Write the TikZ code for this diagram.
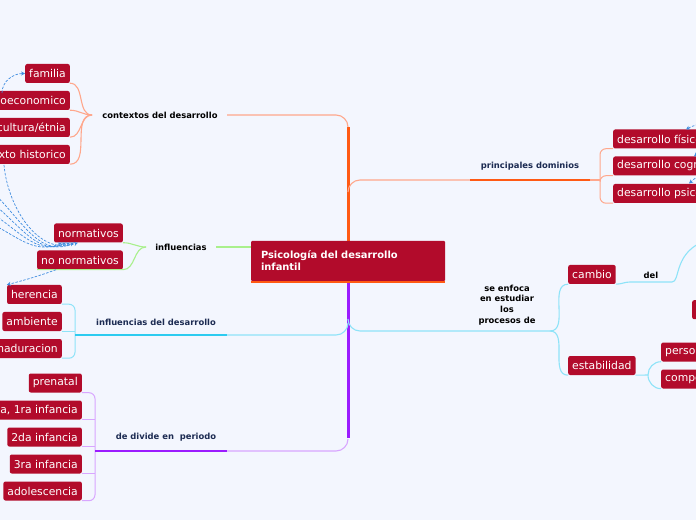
\documentclass[tikz,border=0pt]{standalone}
\usepackage{fontspec}
\setmainfont{DejaVu Sans}
\usetikzlibrary{arrows.meta,backgrounds}
\definecolor{canvasbg}{HTML}{F3F6FE}
\definecolor{topicred}{HTML}{B20B2B}
\definecolor{navy}{HTML}{1C2B52}
\definecolor{orangeL}{HTML}{FFA78C}
\definecolor{orangeD}{HTML}{FF5A14}
\definecolor{cyanL}{HTML}{8EE3F8}
\definecolor{cyanD}{HTML}{2DCBF0}
\definecolor{purpleL}{HTML}{D8A6FF}
\definecolor{purpleD}{HTML}{9B1CFF}
\definecolor{greenL}{HTML}{A9F08C}
\definecolor{linkblue}{HTML}{3F8DE0}
\tikzset{
    topic/.style={fill=topicred, text=white, rounded corners=2pt,
                  minimum height=19pt, inner xsep=4pt, inner ysep=0pt,
                  font=\fontsize{10.8}{13}\selectfont},
    lefttopic/.style={topic, anchor=east},
    righttopic/.style={topic, anchor=west},
    centre/.style={fill=topicred, text=white, rounded corners=1pt,
                   minimum width=194pt, minimum height=40pt, text width=174pt,
                   inner xsep=10pt, align=left,
                   font=\bfseries\fontsize{9.9}{12}\selectfont},
    branchtext/.style={font=\bfseries\fontsize{8.4}{10.7}\selectfont,
                       align=center, inner sep=1pt},
    thin branch/.style={line width=1.1pt},
    thick branch/.style={line width=2pt},
    trunk/.style={line width=3pt},
    bracket/.style={line width=1pt, rounded corners=6pt},
    dashlink/.style={-{Stealth[length=4pt, width=4pt]}, linkblue,
                     line width=0.7pt, dash pattern=on 2.5pt off 1.5pt},
}
\newcommand{\mapcanvas}{
    \path[use as bounding box] (0,0) rectangle (696,520);
    \clip (0,0) rectangle (696,520);
}

\begin{document}
\begin{tikzpicture}[x=1pt, y=1pt]
    \mapcanvas

    % central topic
    \node[centre] (root) at (348,259) {Psicología del desarrollo\\infantil};
    \draw[orangeD, line width=2pt] ([yshift=-1pt]root.south west) -- ([yshift=-1pt]root.south east);

    % contextos del desarrollo
    \node[lefttopic] (familia) at (70,446.5) {familia};
    \node[lefttopic] (socio) at (70,419.5) {socioeconomico};
    \node[lefttopic] (cultura) at (70,392.5) {cultura/étnia};
    \node[lefttopic] (historico) at (70,365.5) {contexto historico};
    \node[branchtext] (ctx) at (160,405) {contextos del desarrollo};
    \coordinate (cbr) at (92,405);
    \coordinate (ctxin) at (227,405);
    \foreach \n in {familia,socio,cultura,historico}
        \draw[orangeL, thin branch] (\n.south east) to[out=0,in=180] (cbr);
    \draw[orangeL, thin branch] (ctxin) -- (336,405) arc[start angle=90, end angle=0, radius=12];

    % principales dominios
    \node[righttopic] (fisico) at (613,381) {desarrollo físico};
    \node[righttopic] (cognitivo) at (613,354) {desarrollo cognitivo};
    \node[righttopic] (psico) at (613,326.5) {desarrollo psicosocial};
    \node[branchtext, navy] (dom) at (530,354) {principales dominios};
    \coordinate (dbr) at (600,340);
    \coordinate (domin) at (470,340);
    \coordinate (domout) at (590,340);
    \draw[orangeL, thin branch] (348,328) arc[start angle=180, end angle=90, radius=12] -- (domin);
    \draw[orangeD, thick branch] (domin) -- (domout);
    \draw[orangeL, thin branch] (domout) -- (dbr);
    \foreach \n in {fisico,cognitivo,psico}
        \draw[orangeL, bracket] (\n.south west) -| (dbr);

    % influencias
    \node[lefttopic] (norm) at (123,287) {normativos};
    \node[lefttopic] (nonorm) at (123,260) {no normativos};
    \node[branchtext] (infl) at (181,273) {influencias};
    \coordinate (ibr) at (146,273);
    \coordinate (inflin) at (216,273);
    \draw[greenL, thin branch] (norm.south east) to[out=0,in=180] (ibr);
    \draw[greenL, thin branch] (nonorm.south west) -- (nonorm.south east) to[out=0,in=180] (ibr);
    \draw[greenL, thin branch] (inflin) -- (inflin -| root.west);

    % influencias del desarrollo
    \node[lefttopic] (herencia) at (62,225.5) {herencia};
    \node[lefttopic] (ambiente) at (62,198.5) {ambiente};
    \node[lefttopic] (maduracion) at (62,171.5) {maduracion};
    \node[branchtext, navy] (infdes) at (156,198) {influencias del desarrollo};
    \coordinate (hbr) at (75,185);
    \coordinate (infdesin) at (227,185);
    \draw[cyanL, bracket] (herencia.south east) -| (hbr);
    \draw[cyanL, bracket] (maduracion.south east) -| (hbr);
    \draw[cyanL, thin branch] (ambiente.south east) -- (ambiente.south east -| hbr);
    \draw[cyanD, thick branch] (hbr) -- (infdesin);
    \draw[cyanL, thin branch] (infdesin) -- (336,185) arc[start angle=270, end angle=360, radius=12];

    % periodos
    \node[lefttopic] (prenatal) at (82,137) {prenatal};
    \node[lefttopic] (infancia) at (82,110) {lactancia, 1ra infancia};
    \node[lefttopic] (segunda) at (82,83) {2da infancia};
    \node[lefttopic] (tercera) at (82,56) {3ra infancia};
    \node[lefttopic] (adolesc) at (82,29) {adolescencia};
    \node[branchtext, navy] (periodo) at (166,83) {de divide en\ \ periodo};
    \coordinate (pbr) at (95,69);
    \coordinate (periodoin) at (227,69);
    \draw[purpleL, bracket] (prenatal.south east) -| (pbr);
    \draw[purpleL, bracket] (adolesc.south east) -| (pbr);
    \foreach \n in {infancia,segunda,tercera}
        \draw[purpleL, thin branch] (\n.south east) -- (\n.south east -| pbr);
    \draw[purpleD, thick branch] (pbr) -- (periodoin);
    \draw[purpleL, thin branch] (periodoin) -- (336,69) arc[start angle=270, end angle=360, radius=12];

    % procesos
    \node[righttopic] (cambio) at (568,245.5) {cambio};
    \node[righttopic] (estab) at (568,154.5) {estabilidad};
    \node[righttopic] (persona) at (661,168) {personalidad};
    \node[righttopic] (comp) at (661,141) {comportamiento};
    \node[topic, anchor=north west, minimum width=40pt] (oculto) at (692,220) {};
    \node[branchtext] (proc) at (507,215) {se enfoca\\en estudiar\\los\\procesos de};
    \node[branchtext] (del) at (651,245) {del};
    \coordinate (prbr) at (550,189);
    \coordinate (ebr) at (648,145);
    \coordinate (delbend) at (630,238);
    \coordinate (delturn) at (672,238);
    \coordinate (delend) at (700,277);
    \draw[cyanL, thin branch] (348,201) arc[start angle=180, end angle=270, radius=12] -- (prbr);
    \draw[cyanL, thin branch] (prbr) to[out=0,in=180] (cambio.south west);
    \draw[cyanL, thin branch] (prbr) to[out=0,in=180] (estab.south west);
    \draw[cyanL, thin branch] (cambio.south east) to[out=0,in=180] (delbend) -- (delturn)
        .. controls (680,238) and (674,264) .. (delend);
    \draw[cyanL, thin branch] (estab.south east) -- (ebr);
    \draw[cyanL, thin branch] (ebr) to[out=90,in=180] (persona.south west);
    \draw[cyanL, thin branch] (ebr) to[out=-90,in=180] (comp.south west);

    % trunk, behind the central topic
    \begin{scope}[on background layer]
        \fill[canvasbg] (0,0) rectangle (696,520);
        \draw[orangeD, trunk] (348,393) -- (root.center);
        \draw[purpleD, trunk] (root.center) -- (348,82);
    \end{scope}

    % links
    \coordinate (sociotop) at (2,427);
    \coordinate (histlow) at (4,355);
    \coordinate (offa) at (-12,332);
    \coordinate (offb) at (-12,320);
    \coordinate (offc) at (-12,309);
    \coordinate (offd) at (-12,298);
    \draw[dashlink] (sociotop) to[out=90,in=180] (familia.west);
    \draw[dashlink] (histlow) to[out=-85,in=200] ([xshift=24pt]norm.south west);
    \draw[dashlink] (offa) to[out=-40,in=205] ([xshift=20pt]norm.south west);
    \draw[dashlink] (offb) to[out=-35,in=205] ([xshift=16pt]norm.south west);
    \draw[dashlink] (offc) to[out=-30,in=205] ([xshift=12pt]norm.south west);
    \draw[dashlink] (offd) to[out=-25,in=205] ([xshift=8pt]norm.south west);
    \draw[dashlink] ([xshift=19pt]nonorm.south west) to[out=200,in=15] (herencia.north west);
    \coordinate (offr1) at (706,397);
    \coordinate (offr2) at (706,372);
    \coordinate (offr3) at (706,347);
    \draw[dashlink] (offr1) to[out=190,in=30] (686,390.5);
    \draw[dashlink] (offr2) to[out=200,in=40] (694,363.5);
    \draw[dashlink] (offr3) to[out=190,in=40] (689,336.5);

\end{tikzpicture}
\end{document}
